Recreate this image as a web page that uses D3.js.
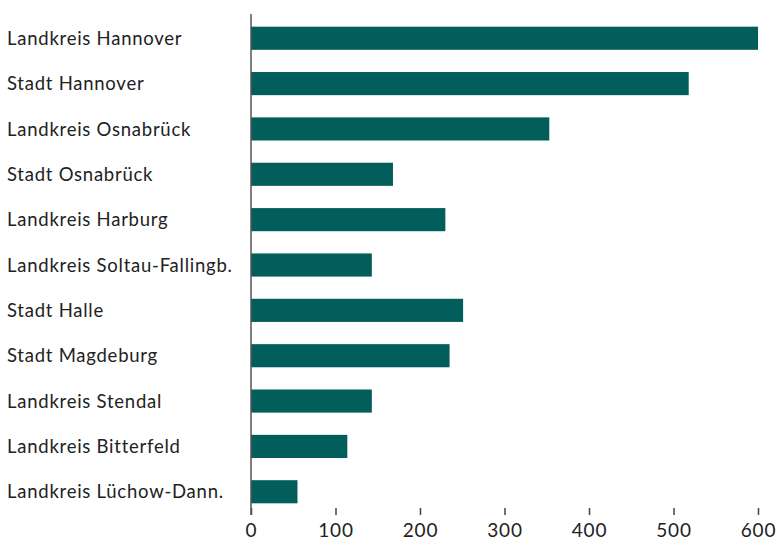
<!DOCTYPE html>
<html><head><meta charset="utf-8">
<script src="https://cdn.jsdelivr.net/npm/d3@7"></script>
<style>body{margin:0;background:#fff}svg{display:block}text{font-family:Lato,"Open Sans",sans-serif}</style>
</head><body><svg id="c" width="776" height="540"></svg>
<script>
const categories = ["Landkreis Hannover","Stadt Hannover","Landkreis Osnabrück","Stadt Osnabrück","Landkreis Harburg","Landkreis Soltau-Fallingb.","Stadt Halle","Stadt Magdeburg","Landkreis Stendal","Landkreis Bitterfeld","Landkreis Lüchow-Dann."];
const values = [600, 518, 353, 168, 230, 143, 251, 235, 143, 114, 55];
const tickValues = [0, 100, 200, 300, 400, 500, 600];

const svg = d3.select("#c");
const x = d3.scaleLinear().domain([0, 600]).range([251, 758]);
const y = d3.scaleBand().domain(categories).range([4, 526]).paddingInner(0.49).paddingOuter(0.5);
const barColor = "#025e5a";
const axisY = 515;

svg.append("g").selectAll("rect").data(categories).join("rect")
  .attr("x", x(0))
  .attr("y", d => y(d))
  .attr("height", y.bandwidth())
  .attr("width", (d, i) => x(values[i]) - x(0))
  .attr("fill", barColor);

svg.append("g").selectAll("text").data(categories).join("text")
  .attr("x", 7)
  .attr("y", d => y(d) + y.bandwidth() / 2)
  .attr("dy", "0.36em")
  .attr("font-size", 18.5)
  .attr("letter-spacing", "0.75px")
  .attr("fill", "#222")
  .text(d => d);

const ax = svg.append("g").attr("transform", `translate(0,${axisY})`)
  .call(d3.axisBottom(x).tickValues(tickValues).tickSizeInner(-7).tickSizeOuter(0).tickPadding(9).tickFormat(d3.format("d")));
ax.select(".domain").remove();
ax.selectAll(".tick line").attr("stroke", "#444").attr("stroke-width", 1.5);
ax.selectAll(".tick text").attr("font-size", 19).attr("letter-spacing", "0.8px").attr("fill", "#222").attr("font-family", "Lato, sans-serif");

svg.append("line")
  .attr("x1", x(0)).attr("x2", x(0))
  .attr("y1", 14).attr("y2", axisY)
  .attr("stroke", "#555").attr("stroke-width", 1.5);
</script></body></html>
